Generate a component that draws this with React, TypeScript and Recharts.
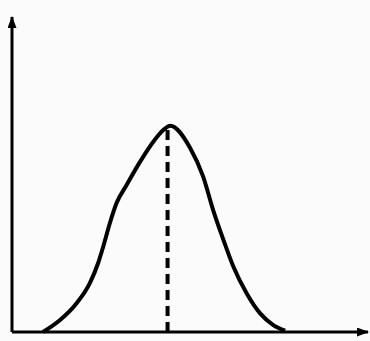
import React from 'react';
import { ComposedChart, Line, XAxis, YAxis, ReferenceLine } from 'recharts';

const xs = [8.7, 13.5, 18.2, 21.9, 24.2, 25.6, 27.5, 29.4, 32.2, 36.0, 39.7, 42.5, 44.4, 50.0, 53.7, 56.5, 59.4, 62.2, 65.9, 69.7, 73.4, 76.7];
const ys = [0, 3.8, 9.2, 15.6, 21.9, 27.0, 34.6, 41.0, 46.7, 54.1, 60.4, 64.1, 65.5, 58.5, 49.3, 38.7, 29.2, 20.7, 12.3, 5.9, 2.2, 0.4];
const peakX = 43.7;
const peakY = 65.3;
const axisMax = 100;

const data = xs.map((x, i) => ({ x, y: ys[i] }));

export default function App() {
  return (
    <div style={{ position: 'absolute', left: 0, top: 0, background: '#fbfbfb', width: 370, height: 341 }}>
      <ComposedChart width={370} height={341} data={data} margin={{ top: 17, right: 2, bottom: 9, left: 12 }}>
        <defs>
          <marker id="arrow" viewBox="0 0 12 9" refX="11" refY="4.5" markerWidth="12" markerHeight="9" markerUnits="userSpaceOnUse" orient="auto">
            <path d="M0,0 L12,4.5 L0,9 z" fill="#000" />
          </marker>
        </defs>
        <XAxis type="number" dataKey="x" domain={[0, axisMax]} hide />
        <YAxis type="number" domain={[0, axisMax]} hide />
        <ReferenceLine
          segment={[{ x: 0, y: 0 }, { x: 0, y: axisMax }]}
          stroke="#000"
          strokeWidth={3}
          markerEnd="url(#arrow)"
          ifOverflow="visible"
        />
        <ReferenceLine
          segment={[{ x: 0, y: 0 }, { x: axisMax, y: 0 }]}
          stroke="#000"
          strokeWidth={3}
          markerEnd="url(#arrow)"
          ifOverflow="visible"
        />
        <ReferenceLine
          segment={[{ x: peakX, y: 0 }, { x: peakX, y: peakY }]}
          stroke="#000"
          strokeWidth={4}
          strokeDasharray="10 6"
          ifOverflow="visible"
        />
        <Line
          type="monotone"
          dataKey="y"
          stroke="#000"
          strokeWidth={4}
          dot={false}
          isAnimationActive={false}
        />
      </ComposedChart>
    </div>
  );
}
